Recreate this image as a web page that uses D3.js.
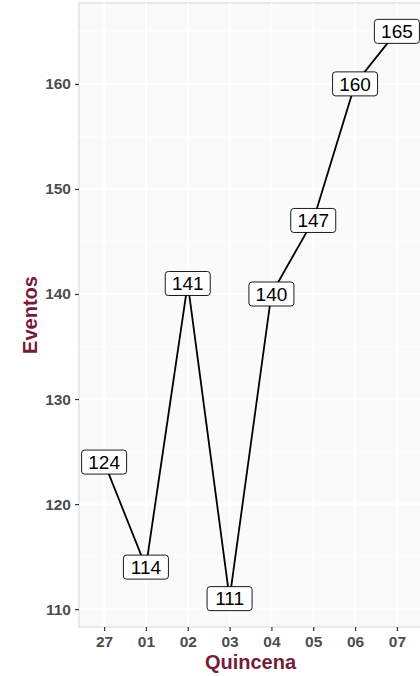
<!DOCTYPE html>
<html>
<head>
<meta charset="utf-8">
<script src="https://cdn.jsdelivr.net/npm/d3@7"></script>
<style>
  html, body { margin: 0; padding: 0; background: #ffffff; }
  svg { display: block; font-family: "Liberation Sans", Arial, sans-serif; }
</style>
</head>
<body>
<svg id="chart" width="420" height="676"></svg>
<script>
// fortnight labels and event counts
var quincenas = ["27", "01", "02", "03", "04", "05", "06", "07"];
var eventos = [124, 114, 141, 111, 140, 147, 160, 165];
var yTicks = [110, 120, 130, 140, 150, 160];

var W = 420, H = 676;
var M = {top: 3, right: -2, bottom: 49, left: 79};

var svg = d3.select("#chart");
var iw = W - M.left - M.right;
var ih = H - M.top - M.bottom;

var g = svg.append("g").attr("transform", "translate(" + M.left + "," + M.top + ")");

//ggplot-like expansion: 5% continuous, 0.6 units discrete
var lo = d3.min(eventos), hi = d3.max(eventos);
var pad = (hi - lo) * 0.05;
var y = d3.scaleLinear().domain([lo - pad, hi + pad]).range([ih, 0]);

var x = d3.scalePoint().domain(quincenas).range([0, iw]).padding(0.6);

// panel
g.append("rect").attr("width", iw).attr("height", ih)
  .attr("fill", "#fafafa").attr("stroke", "#d6d6d6").attr("stroke-width", 1);

// minor gridlines
var minors = d3.range(105, 170, 10).filter(function(v){ return v > y.domain()[0] && v < y.domain()[1]; });
g.selectAll(".minor").data(minors).enter().append("line")
  .attr("x1", 0).attr("x2", iw)
  .attr("y1", function(d){ return y(d); }).attr("y2", function(d){ return y(d); })
  .attr("stroke", "#ffffff").attr("stroke-width", 0.8);

// major gridlines
g.selectAll(".hgrid").data(yTicks).enter().append("line")
  .attr("x1", 0).attr("x2", iw)
  .attr("y1", function(d){ return y(d); }).attr("y2", function(d){ return y(d); })
  .attr("stroke", "#ffffff").attr("stroke-width", 1.6);
g.selectAll(".vgrid").data(quincenas).enter().append("line")
  .attr("y1", 0).attr("y2", ih)
  .attr("x1", function(d){ return x(d); }).attr("x2", function(d){ return x(d); })
  .attr("stroke", "#ffffff").attr("stroke-width", 1.6);

// axes
var yAxis = g.append("g").call(d3.axisLeft(y).tickValues(yTicks).tickSize(4).tickPadding(4));
var xAxis = g.append("g").attr("transform", "translate(0," + ih + ")")
  .call(d3.axisBottom(x).tickSize(4).tickPadding(5));
[yAxis, xAxis].forEach(function(a){
  a.select(".domain").remove();
  a.selectAll(".tick line").attr("stroke", "#333333").attr("stroke-width", 1.2);
  a.selectAll(".tick text").attr("fill", "#4d4d4d")
    .style("font-size", "15.5px").style("font-weight", "bold");
});

// line
var line = d3.line()
  .x(function(d, i){ return x(quincenas[i]); })
  .y(function(d){ return y(d); });
g.append("path").datum(eventos).attr("d", line)
  .attr("fill", "none").attr("stroke", "#000000").attr("stroke-width", 1.8);

// labels
var labs = g.selectAll(".lab").data(eventos).enter().append("g")
  .attr("transform", function(d, i){ return "translate(" + x(quincenas[i]) + "," + y(d) + ")"; });
labs.append("rect")
  .attr("x", -22.5).attr("y", -12).attr("width", 45).attr("height", 24)
  .attr("rx", 3).attr("ry", 3)
  .attr("fill", "#ffffff").attr("stroke", "#000000").attr("stroke-width", 0.9);
labs.append("text")
  .attr("text-anchor", "middle").attr("dy", "0.36em")
  .style("font-size", "19px").attr("fill", "#000000")
  .text(function(d){ return d; });

// axis titles
svg.append("text")
  .attr("x", M.left + iw / 2).attr("y", 669)
  .attr("text-anchor", "middle")
  .style("font-size", "20px").style("font-weight", "bold").attr("fill", "#761c3b")
  .text("Quincena");
svg.append("text")
  .attr("transform", "translate(37," + (M.top + ih / 2) + ") rotate(-90)")
  .attr("text-anchor", "middle")
  .style("font-size", "20px").style("font-weight", "bold").attr("fill", "#761c3b")
  .text("Eventos");
</script>
</body>
</html>
